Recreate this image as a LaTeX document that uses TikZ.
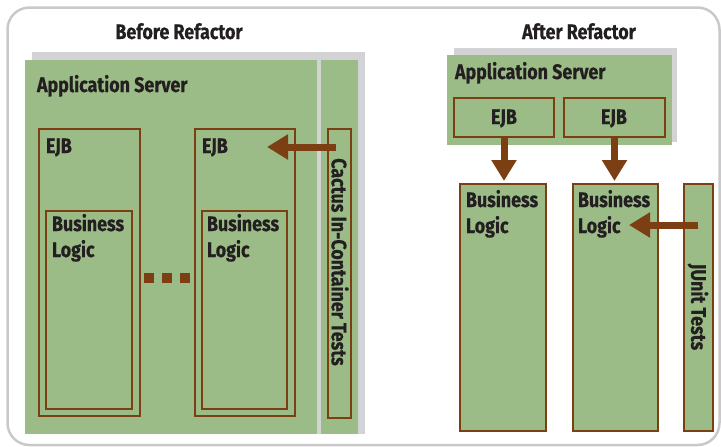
\documentclass[tikz,border=0pt]{standalone}
\usepackage{fontspec}
\setmainfont{Fira Sans}[FakeStretch=0.85, FakeBold=0.6]
\usetikzlibrary{arrows.meta}

\definecolor{leaf}{HTML}{9BBB87}
\definecolor{bark}{HTML}{7B3F13}
\definecolor{greyback}{HTML}{D3D3D5}
\definecolor{frame}{HTML}{C9C9CB}
\definecolor{ink}{HTML}{231F20}

\tikzset{
  lbl/.style={font=\bfseries\fontsize{21}{24}\selectfont, text=ink, inner sep=0pt, outer sep=0pt},
  box/.style={draw=bark, line width=1.8pt, fill=leaf, inner sep=0pt, outer sep=0pt},
  panel/.style={fill=leaf, draw=none},
  backing/.style={fill=greyback, draw=none},
  bigarrow/.style={draw=bark, line width=7pt,
    -{Triangle[length=21pt,width=24pt]}},
}

% rectangular node from corner (x1,y1) to (x2,y2), in picture units
\newcommand{\rectnode}[6]{%
  \node[#1, anchor=north west, minimum width=#5pt-#3pt, minimum height=#6pt-#4pt]
    (#2) at (#3,#4) {};}

\begin{document}
\begin{tikzpicture}[x=1pt, y=-1pt]
\useasboundingbox (0,0) rectangle (721,447);

% outer frame
\draw[frame, line width=2.5pt, rounded corners=22pt] (7.5,7.5) rectangle (719.5,445);

% ---------- before refactor ----------
\node[lbl, anchor=base] (t1) at (179,39) {Before Refactor};
\rectnode{backing}{backA}{32}{52}{365}{434}
\rectnode{panel}{srvA}{25}{60}{317}{434}
\rectnode{panel}{cactcol}{321}{60}{358}{434}
\node[lbl, anchor=base west] (srvAt) at (37,92) {Application Server};

\rectnode{box}{ejb1}{39}{129}{140}{416}
\rectnode{box}{ejb2}{195}{129}{295}{416}
\rectnode{box}{bl1}{46}{211}{132}{409}
\rectnode{box}{bl2}{202}{211}{287}{409}
\node[lbl, anchor=base west] (ejb1t) at (46,153) {EJB};
\node[lbl, anchor=base west] (ejb2t) at (202,153) {EJB};
\node[lbl, anchor=base west] (bl1a) at (52,231) {Business};
\node[lbl, anchor=base west] (bl1b) at (52,257) {Logic};
\node[lbl, anchor=base west] (bl2a) at (207,231) {Business};
\node[lbl, anchor=base west] (bl2b) at (207,257) {Logic};

% ellipsis between the two EJBs
\foreach \cx [count=\i] in {149,167,185}
  \node[fill=bark, minimum size=10pt, inner sep=0pt] (dot\i) at (\cx,278) {};

\rectnode{box}{cactus}{328}{129}{351}{418}
\node[lbl, rotate=-90] (cactust) at (340,262) {Cactus In-Container Tests};

\coordinate (cactusfrom) at (336,147);
\coordinate (ejb2to) at (267,147);
\draw[bigarrow] (cactusfrom) -- (ejb2to);

% ---------- after refactor ----------
\node[lbl, anchor=base] (t2) at (579,39) {After Refactor};
\rectnode{backing}{backB}{454}{48}{677}{142}
\rectnode{panel}{srvB}{447}{55}{672}{145}
\node[lbl, anchor=base west] (srvBt) at (455,79) {Application Server};

\rectnode{box}{ejb3}{454}{98}{554}{137}
\rectnode{box}{ejb4}{564}{98}{665}{137}
\node[lbl, anchor=base] (ejb3t) at (504,124) {EJB};
\node[lbl, anchor=base] (ejb4t) at (614,124) {EJB};

\rectnode{box}{bl3}{460}{184}{546}{431}
\rectnode{box}{bl4}{573}{184}{658}{431}
\node[lbl, anchor=base west] (bl3a) at (466,207) {Business};
\node[lbl, anchor=base west] (bl3b) at (466,233) {Logic};
\node[lbl, anchor=base west] (bl4a) at (578,207) {Business};
\node[lbl, anchor=base west] (bl4b) at (578,233) {Logic};

\rectnode{box}{junit}{684}{184}{713}{431}
\node[lbl, rotate=-90] (junitt) at (698,307) {JUnit Tests};

\draw[bigarrow, shorten >=3pt] (ejb3.south) -- (ejb3.south |- bl3.north);
\draw[bigarrow, shorten >=3pt] (ejb4.south) -- (ejb4.south |- bl4.north);

\coordinate (junitfrom) at (698,225);
\coordinate (bl4to) at (629,225);
\draw[bigarrow] (junitfrom) -- (bl4to);
\end{tikzpicture}
\end{document}
